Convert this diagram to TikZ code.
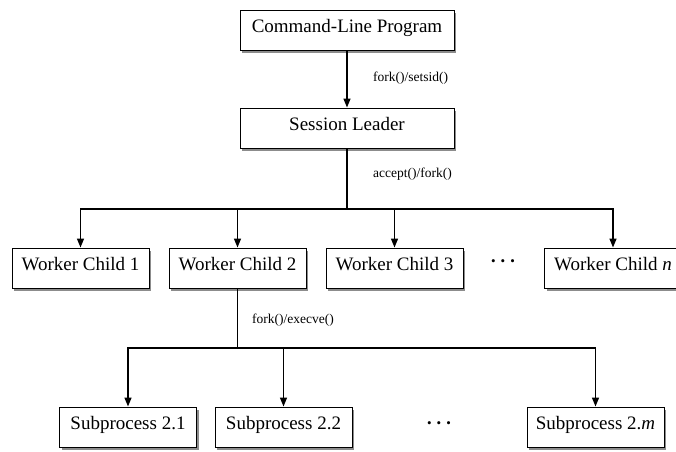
\documentclass[tikz,border=0pt]{standalone}
\usepackage{fontspec}
\setmainfont{Liberation Serif}
\usetikzlibrary{arrows.meta,shadows}
\begin{document}
\begin{tikzpicture}[x=1pt,y=-1pt,
  box/.style={draw=black, line width=1pt, fill=white, minimum width=137pt, minimum height=40pt,
    inner sep=0pt, text height=13pt, text depth=8pt, font=\fontsize{19}{22}\selectfont,
    drop shadow={shadow xshift=2pt, shadow yshift=-3pt, fill=black!45, opacity=1}},
  widebox/.style={box, minimum width=214pt},
  conn/.style={line width=1.5pt},
  arr/.style={conn, -{Triangle[length=9pt,width=7pt]}},
  lbl/.style={font=\fontsize{13.5}{16}\selectfont, anchor=west, inner sep=0pt},
  dots/.style={font=\fontsize{13}{13}\selectfont, inner sep=0pt}
]
\useasboundingbox (0,0) rectangle (676,451);
\node[widebox] (clp) at (347,30) {Command-Line Program};
\node[widebox] (sl) at (347,128) {Session Leader};
\node[box] (w1) at (80.5,268) {Worker Child 1};
\node[box] (w2) at (237.5,268) {Worker Child 2};
\node[box] (w3) at (394.5,268) {Worker Child 3};
\node[box] (wn) at (613,268) {Worker Child \textit{n}};
\node[dots] (wd) at (503,263) {\textbullet\hspace{5pt}\textbullet\hspace{5pt}\textbullet};
\node[box] (s1) at (128,427) {Subprocess 2.1};
\node[box] (s2) at (283.5,427) {Subprocess 2.2};
\node[box] (sm) at (595.5,427) {Subprocess 2.\textit{m}};
\node[dots] (sd) at (439,425) {\textbullet\hspace{5pt}\textbullet\hspace{5pt}\textbullet};

\coordinate (b1) at (347,209);
\coordinate (b2) at (237.5,348);

\draw[arr] (clp) -- (sl);
\draw[conn] (sl) -- (b1);
\draw[arr] (b1) -| (w1.north);
\draw[arr] (b1) -| (w2.north);
\draw[arr] (b1) -| (w3.north);
\draw[arr] (b1) -| (wn.north);
\draw[conn] (w2) -- (b2);
\draw[arr] (b2) -| (s1.north);
\draw[arr] (b2) -| (s2.north);
\draw[arr] (b2) -| (sm.north);

\node[lbl] (l1) at (373,78) {fork()/setsid()};
\node[lbl] (l2) at (373,174) {accept()/fork()};
\node[lbl] (l3) at (252,320) {fork()/execve()};
\end{tikzpicture}
\end{document}
